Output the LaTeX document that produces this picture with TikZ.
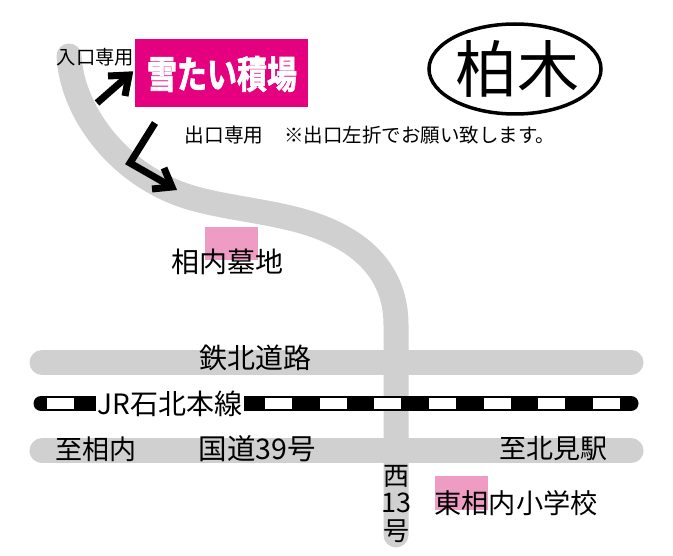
\documentclass[tikz,border=0pt]{standalone}
\usepackage{fontspec}
\usepackage{graphicx}
\setmainfont{Noto Sans CJK JP}
\newfontfamily\heavycjk[FakeBold=2.2]{Noto Sans CJK JP Bold}
\usetikzlibrary{shapes.geometric}
\definecolor{roadgray}{HTML}{D0D0D0}
\definecolor{signpink}{HTML}{E4007F}
\definecolor{softpink}{HTML}{EE9CC4}
\tikzset{
  road/.style={draw=roadgray,line width=25pt,line cap=round,line join=round},
  railbase/.style={draw=black,line width=15pt,line cap=round},
  tie/.style={fill=white,draw=none},
  lbl/.style={inner sep=0pt,font=\fontsize{#1}{#1}\selectfont},
  lbl/.default=26pt,
  arrowline/.style={draw=black,line width=7pt,line join=miter,miter limit=10},
  mark box/.style={fill=softpink,draw=none},
}
\begin{document}
\begin{tikzpicture}[x=1pt,y=-1pt]
\useasboundingbox[fill=white] (0,0) rectangle (673,556);
% roads
\draw[road] (69,56) .. controls (72,110) and (115,170) .. (180,194) .. controls (215,207) and (265,210) .. (305,222) .. controls (365,240) and (396,275) .. (396,325) -- (396,535);
\draw[road] (42,362.5) -- (631,362.5);
\draw[road] (42,451) -- (631,451);
% railway
\draw[railbase] (41,403.5) -- (631,403.5);
\foreach \x in {47,265,320,374,429,484,538,593}
  \fill[tie] (\x,398) rectangle ++(27,11);
% pink markers
\fill[mark box] (205,227) rectangle (258,260);
\fill[mark box] (435,476) rectangle (488,510);
% sign
\node[fill=signpink,minimum width=173pt,minimum height=68pt,inner sep=0pt,anchor=north west] (sign) at (135,39) {};
\node[lbl=38pt,text=white] (signtext) at (222,74) {\scalebox{0.79}[1]{\heavycjk 雪たい積場}};
% station ellipse
\node[ellipse,draw=black,line width=3.5pt,minimum width=172pt,minimum height=90pt,inner sep=0pt] (station) at (515,69) {};
\node[lbl=62pt] (stationtext) at (517,69) {柏木};
% arrows
\coordinate (inA) at (97,103);
\coordinate (inB) at (129,75);
\coordinate (inC) at (108,76);
\coordinate (inD) at (125,96);
\draw[arrowline] (inA) -- (inB);
\draw[arrowline] (inC) -- (inB) -- (inD);
\coordinate (outA) at (155,123);
\coordinate (outB) at (130,163);
\coordinate (outC) at (172,187);
\coordinate (outD) at (164,168);
\coordinate (outE) at (152,189);
\draw[arrowline] (outA) -- (outB) -- (outC);
\draw[arrowline] (outD) -- (outC) -- (outE);
% labels
\node[lbl=19.3pt] (entry) at (95.5,57) {入口専用};
\node[lbl=19.7pt] (exit) at (224,135) {出口専用};
\node[lbl=19.5pt,anchor=west] (note) at (284,135) {※出口左折でお願い致します。};
\node[lbl=28pt] (cemetery) at (227.5,262) {相内墓地};
\node[lbl=28pt] (tetsuhoku) at (255.5,358) {鉄北道路};
\node[lbl=28pt,fill=white,inner xsep=2pt,inner ysep=0pt] (rail) at (170,404) {JR石北本線};
\node[lbl=27pt] (toaionai) at (96,449) {至相内};
\node[lbl=28.5pt] (route) at (257.5,449) {国道39号};
\node[lbl=27pt] (tokitami) at (553,449) {至北見駅};
\node[lbl=26pt] (nishi) at (396,476) {西};
\node[lbl=27pt] (thirteen) at (396,503) {13};
\node[lbl=26pt] (go) at (396,531) {号};
\node[lbl=27.2pt] (school) at (516,503) {東相内小学校};
\end{tikzpicture}
\end{document}
